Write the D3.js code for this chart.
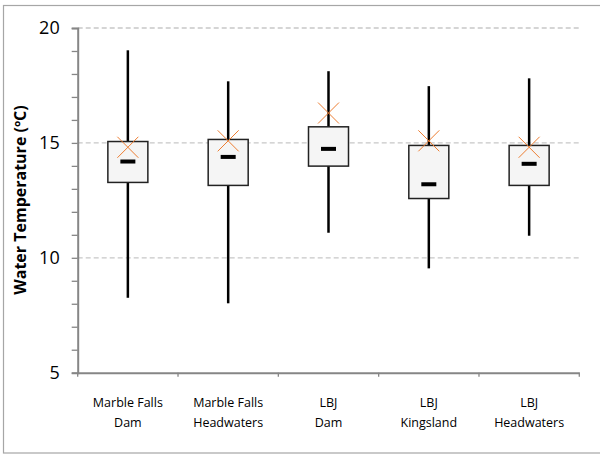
<!DOCTYPE html>
<html><head><meta charset="utf-8">
<script src="https://cdn.jsdelivr.net/npm/d3@7"></script>
<style>html,body{margin:0;padding:0;background:#fff;}svg{display:block;}</style>
</head><body>
<svg id="chart" width="600" height="457"></svg>
<script>
const categories = [["Marble Falls","Dam"],["Marble Falls","Headwaters"],["LBJ","Dam"],["LBJ","Kingsland"],["LBJ","Headwaters"]];
const whiskerMin = [8.26, 8.02, 11.09, 9.54, 10.96];
const q1 = [13.28, 13.15, 13.99, 12.58, 13.15];
const median = [14.19, 14.39, 14.74, 13.20, 14.09];
const q3 = [15.06, 15.15, 15.70, 14.89, 14.89];
const whiskerMax = [19.03, 17.68, 18.12, 17.47, 17.81];
const mean = [14.81, 15.09, 16.30, 15.09, 14.81];
const yTicks = [5, 10, 15, 20];
const yMinorTicks = d3.range(5, 21, 1);
const yLabel = "Water Temperature (ºC)";

const svg = d3.select("#chart");
const L = 77.7, R = 579.3, T = 28, B = 372.7;
const font = "'Open Sans', sans-serif";

// outer frame
svg.append("rect").attr("x", 3.5).attr("y", 5.5).attr("width", 610).attr("height", 447.5)
  .attr("fill", "#fff").attr("stroke", "#a6a6a6").attr("stroke-width", 1.2);

const idx = d3.range(categories.length);
const x = d3.scaleBand().domain(idx).range([L, R]).padding(0);
const y = d3.scaleLinear().domain([5, 20]).range([B, T]);

// gridlines
svg.append("g").selectAll("line").data(yTicks.filter(d => d > 5)).join("line")
  .attr("x1", L).attr("x2", R).attr("y1", d => y(d)).attr("y2", d => y(d))
  .attr("stroke", "#c8c8c8").attr("stroke-width", 1.3).attr("stroke-dasharray", "5,3");

// y axis
const yAxis = d3.axisLeft(y).tickValues(yMinorTicks).tickSize(6).tickFormat(d => yTicks.includes(d) ? d : "");
const gy = svg.append("g").attr("transform", `translate(${L},0)`).call(yAxis);
gy.select(".domain").attr("stroke", "#868686").attr("stroke-width", 2);
gy.selectAll(".tick line").attr("stroke", "#868686").attr("stroke-width", 1.3);
gy.selectAll(".tick text").attr("font-family", font).attr("font-size", 18).attr("fill", "#000").attr("x", -18);

// x axis
const xAxis = d3.axisBottom(x).tickSize(0).tickFormat("");
const gx = svg.append("g").attr("transform", `translate(0,${B})`).call(xAxis);
gx.select(".domain").attr("stroke", "#868686").attr("stroke-width", 2);
svg.append("g").selectAll("line").data(d3.range(categories.length + 1)).join("line")
  .attr("x1", i => L + i * x.bandwidth()).attr("x2", i => L + i * x.bandwidth())
  .attr("y1", B).attr("y2", B + 4).attr("stroke", "#868686").attr("stroke-width", 1.3);

// category labels
const lab = svg.append("g").selectAll("text").data(idx).join("text")
  .attr("font-family", font).attr("font-size", 12.5).attr("text-anchor", "middle").attr("fill", "#000");
lab.each(function(i) {
  const t = d3.select(this);
  const cx = x(i) + x.bandwidth() / 2;
  categories[i].forEach((s, k) => t.append("tspan").attr("x", cx).attr("y", 407 + k * 20).text(s));
});

// y label
svg.append("text").attr("transform", "translate(26,200) rotate(-90)")
  .attr("text-anchor", "middle").attr("font-family", font).attr("font-weight", "bold")
  .attr("font-size", 16).text(yLabel);

// boxes
const g = svg.append("g");
const cx = i => x(i) + x.bandwidth() / 2;
g.selectAll(".whisker").data(idx).join("line")
  .attr("x1", cx).attr("x2", cx).attr("y1", i => y(whiskerMin[i])).attr("y2", i => y(whiskerMax[i]))
  .attr("stroke", "#000").attr("stroke-width", 2.5);
const bw = 40;
g.selectAll(".box").data(idx).join("rect")
  .attr("x", i => cx(i) - bw / 2).attr("width", bw)
  .attr("y", i => y(q3[i])).attr("height", i => y(q1[i]) - y(q3[i]))
  .attr("fill", "#f5f5f5").attr("stroke", "#222").attr("stroke-width", 1.5);
g.selectAll(".med").data(idx).join("rect")
  .attr("x", i => cx(i) - 7.5).attr("width", 15)
  .attr("y", i => y(median[i]) - 2).attr("height", 4).attr("fill", "#000");
const ms = 10.5;
g.selectAll(".mean").data(idx).join("path")
  .attr("d", i => {
    const X = cx(i), Y = y(mean[i]);
    return `M${X-ms},${Y-ms}L${X+ms},${Y+ms}M${X-ms},${Y+ms}L${X+ms},${Y-ms}`;
  })
  .attr("stroke", "#ED7D31").attr("stroke-width", 1).attr("fill", "none");
</script>
</body></html>
